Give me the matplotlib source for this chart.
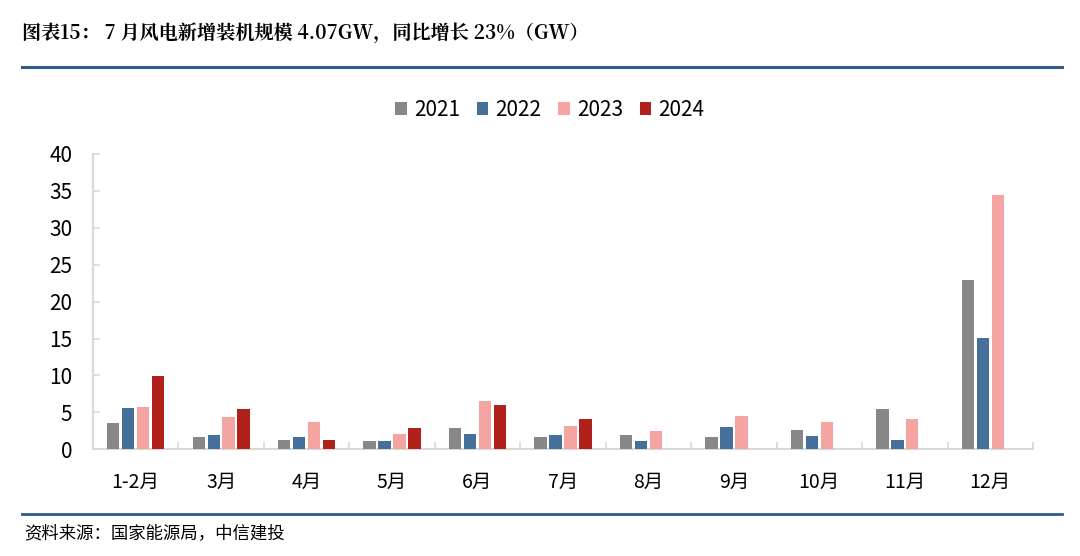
import matplotlib
matplotlib.use("Agg")
import matplotlib.pyplot as plt
import numpy as np

plt.rcParams['font.family'] = ['Noto Sans CJK SC', 'DejaVu Sans']

categories = ["1-2月", "3月", "4月", "5月", "6月", "7月", "8月", "9月", "10月", "11月", "12月"]
years = ["2021", "2022", "2023", "2024"]
v2021 = [3.5, 1.6, 1.25, 1.1, 2.9, 1.6, 1.95, 1.7, 2.6, 5.4, 22.9]
v2022 = [5.6, 2.0, 1.6, 1.15, 2.05, 1.9, 1.1, 3.0, 1.85, 1.3, 15.05]
v2023 = [5.7, 4.4, 3.7, 2.05, 6.55, 3.2, 2.5, 4.45, 3.7, 4.05, 34.5]
v2024 = [9.9, 5.5, 1.25, 2.9, 6.0, 4.07]
colors = ["#878787", "#44709A", "#F4A5A2", "#B0211C"]

W, H = 1080, 556
fig = plt.figure(figsize=(W / 100, H / 100), dpi=100)

ax = fig.add_axes([93 / W, 1 - 449.3 / H, 940 / W, (449.3 - 154) / H])

x = np.arange(len(categories))
step = 0.175
bw = 0.145
series = [v2021, v2022, v2023, v2024]
for i, (vals, c, lab) in enumerate(zip(series, colors, years)):
    xs = x[:len(vals)] + (i - 1.5) * step
    ax.bar(xs, vals, width=bw, color=c, label=lab, zorder=3)

ax.set_xlim(-0.5, len(categories) - 0.5)
ax.set_ylim(0, 40)
ax.set_yticks(range(0, 41, 5))
ax.set_xticks(x)
ax.set_xticklabels(categories)
ax.set_xticks(np.arange(-0.5, len(categories) + 0.5, 1), minor=True)
ax.tick_params(axis='x', which='major', length=0, pad=16, labelsize=14)
ax.tick_params(axis='x', which='minor', direction='in', length=5, color='#d9d9d9', width=1.2)
ax.tick_params(axis='y', direction='in', length=5, color='#d9d9d9', width=1.2, labelsize=15, pad=15)
for lab in ax.get_yticklabels():
    lab.set_horizontalalignment('right')
for s in ['top', 'right']:
    ax.spines[s].set_visible(False)
for s in ['left', 'bottom']:
    ax.spines[s].set_color('#d9d9d9')
    ax.spines[s].set_linewidth(1.5)

leg = fig.legend(loc='center', bbox_to_anchor=(550 / W, 1 - 110 / H), ncol=4, frameon=False,
                 fontsize=15, handlelength=0.55, handleheight=0.55, handletextpad=0.35,
                 columnspacing=0.8)

fig.text(22 / W, 1 - 33 / H, "图表15： 7 月风电新增装机规模 4.07GW，同比增长 23%（GW）",
         fontsize=13.8, fontweight='bold', va='center', ha='left',
         family=['Noto Serif CJK SC', 'Noto Sans CJK SC', 'DejaVu Sans'])

fig.add_artist(plt.Line2D([22 / W, 1062 / W], [1 - 67 / H, 1 - 67 / H], color='#2F5B8C', lw=2.2))
fig.add_artist(plt.Line2D([22 / W, 1062 / W], [1 - 514 / H, 1 - 514 / H], color='#2F5B8C', lw=2.0))

fig.text(24 / W, 1 - 533 / H, "资料来源：国家能源局，中信建投", fontsize=12.5, style='italic',
         va='center', ha='left')

fig.savefig("out.png", dpi=100)
